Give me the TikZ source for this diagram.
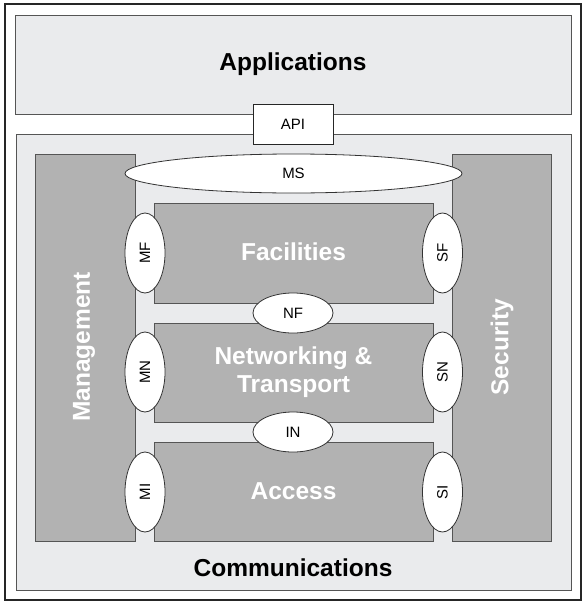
\documentclass[tikz,border=0pt]{standalone}
\usepackage{fontspec}
\setmainfont{Liberation Sans}
\usetikzlibrary{shapes.geometric}
\definecolor{panelfill}{HTML}{EAEBED}
\definecolor{barfill}{HTML}{B2B2B2}
\definecolor{edge}{HTML}{555555}
\tikzset{
  panel/.style={draw=edge, line width=1pt, fill=panelfill, rectangle, inner sep=0pt},
  bar/.style={draw=edge, line width=0.9pt, fill=barfill, rectangle, inner sep=0pt},
  iface/.style={draw=black!80, line width=0.8pt, fill=white, ellipse, inner sep=0pt, font=\fontsize{15}{17}\selectfont},
  bigtxt/.style={font=\fontsize{24.5}{28}\selectfont\bfseries},
  whitetxt/.style={font=\fontsize{24.5}{28}\selectfont\bfseries, text=white, align=center}
}
\begin{document}
\begin{tikzpicture}[x=1pt, y=-1pt]
\useasboundingbox (0,0) rectangle (586,608);
\fill[white] (0,0) rectangle (586,608);
\draw[line width=1.3pt, draw=black!85] (5,4) rectangle (581,600);
% panels
\node[panel, minimum width=556, minimum height=99] (apps) at (293,64.5) {};
\node[bigtxt] (appslbl) at (293,64) {Applications};
\node[panel, minimum width=555, minimum height=456] (comm) at (293.5,362) {};
\node[bigtxt] (commlbl) at (293,568) {Communications};
% vertical bars
\node[bar, minimum width=100, minimum height=387] (mgmt) at (85,347.5) {};
\node[whitetxt, rotate=90] (mgmtlbl) at (84,347) {Management};
\node[bar, minimum width=99, minimum height=387] (sec) at (501.5,347.5) {};
\node[whitetxt, rotate=90] (seclbl) at (502,347) {Security};
% layer boxes
\node[bar, minimum width=279, minimum height=100] (fac) at (293.5,253) {};
\node[whitetxt] (faclbl) at (293.5,252) {Facilities};
\node[bar, minimum width=279, minimum height=99] (net) at (293.5,372.5) {};
\node[whitetxt] (netlbl) at (293.5,372) {Networking \&\\Transport};
\node[bar, minimum width=279, minimum height=99] (acc) at (293.5,491.5) {};
\node[whitetxt] (acclbl) at (293.5,491) {Access};
% API
\node[draw=black!85, line width=1pt, fill=white, minimum width=80, minimum height=40, inner sep=0pt, font=\fontsize{15}{17}\selectfont] (api) at (293,124) {API};
% interfaces
\node[iface, minimum width=337, minimum height=39] (ms) at (293.5,173.5) {MS};
\node[iface, minimum width=80, minimum height=40] (nf) at (293,313) {NF};
\node[iface, minimum width=80, minimum height=40] (in) at (293,432) {IN};
\node[iface, minimum width=80, minimum height=40, rotate=90] (mf) at (145,253) {MF};
\node[iface, minimum width=80, minimum height=40, rotate=90] (mn) at (145,372) {MN};
\node[iface, minimum width=80, minimum height=40, rotate=90] (mi) at (145,492) {MI};
\node[iface, minimum width=80, minimum height=40, rotate=90] (sf) at (442.5,253) {SF};
\node[iface, minimum width=80, minimum height=40, rotate=90] (sn) at (442.5,372) {SN};
\node[iface, minimum width=80, minimum height=40, rotate=90] (si) at (442.5,492) {SI};
\end{tikzpicture}
\end{document}
